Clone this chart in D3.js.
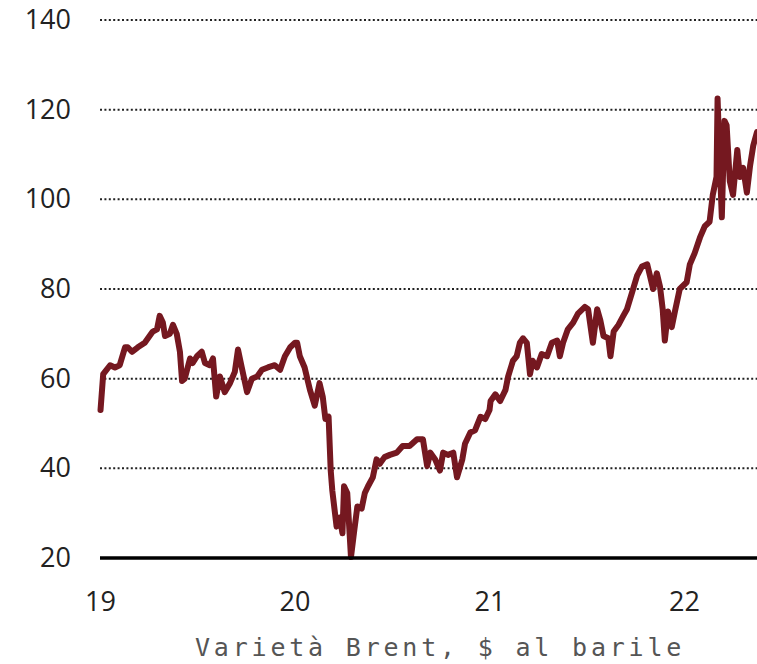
<!DOCTYPE html>
<html>
<head>
<meta charset="utf-8">
<script src="https://cdn.jsdelivr.net/npm/d3@7"></script>
<style>
  body { margin: 0; background: #fff; }
  svg { display: block; }
  .ylab text, .xlab text { font-family: "Open Sans", sans-serif; font-size: 27px; fill: #222; }
  .caption { font-family: "DejaVu Sans Mono", monospace; font-size: 25px; fill: #555; letter-spacing: 3.8px; }
</style>
</head>
<body>
<div id="chart"></div>
<script>
// Brent, $ per barrel
var dates = [
  "2019-01-02","2019-01-07","2019-01-20","2019-01-29","2019-02-07","2019-02-17","2019-02-22","2019-03-02",
  "2019-03-13","2019-03-26","2019-04-01","2019-04-10","2019-04-18","2019-04-23","2019-04-29","2019-05-03",
  "2019-05-12","2019-05-18","2019-05-25","2019-05-31","2019-06-04","2019-06-09","2019-06-19","2019-06-24",
  "2019-07-02","2019-07-11","2019-07-17","2019-07-26","2019-08-01","2019-08-07","2019-08-14","2019-08-23",
  "2019-09-02","2019-09-11","2019-09-17","2019-09-24","2019-10-04","2019-10-13","2019-10-23","2019-11-01",
  "2019-11-12","2019-11-25","2019-12-05","2019-12-14","2019-12-24","2020-01-02","2020-01-06","2020-01-11",
  "2020-01-20","2020-01-30","2020-02-08","2020-02-17","2020-02-23","2020-02-28","2020-03-05","2020-03-09",
  "2020-03-12","2020-03-20","2020-03-26","2020-03-31","2020-04-03","2020-04-09","2020-04-16","2020-04-22",
  "2020-04-28","2020-05-06","2020-05-12","2020-05-18","2020-05-27","2020-06-03","2020-06-09","2020-06-18",
  "2020-06-28","2020-07-11","2020-07-22","2020-08-04","2020-08-18","2020-08-29","2020-09-06","2020-09-12",
  "2020-09-21","2020-09-30","2020-10-06","2020-10-15","2020-10-25","2020-11-01","2020-11-11","2020-11-16",
  "2020-11-26","2020-12-05","2020-12-15","2020-12-24","2021-01-01","2021-01-03","2021-01-12","2021-01-21",
  "2021-01-31","2021-02-05","2021-02-14","2021-02-21","2021-02-27","2021-03-05","2021-03-12","2021-03-18",
  "2021-03-23","2021-03-31","2021-04-09","2021-04-19","2021-04-28","2021-05-08","2021-05-13","2021-05-19",
  "2021-05-28","2021-06-07","2021-06-16","2021-06-29","2021-07-05","2021-07-14","2021-07-22","2021-07-28",
  "2021-08-03","2021-08-12","2021-08-16","2021-08-22","2021-08-31","2021-09-09","2021-09-16","2021-09-25",
  "2021-10-05","2021-10-14","2021-10-24","2021-10-29","2021-11-04","2021-11-11","2021-11-17","2021-11-22",
  "2021-11-26","2021-12-02","2021-12-09","2021-12-15","2021-12-24","2022-01-06","2022-01-12","2022-01-21",
  "2022-01-31","2022-02-09","2022-02-18","2022-02-24","2022-03-03","2022-03-05","2022-03-09","2022-03-13",
  "2022-03-18","2022-03-22","2022-03-28","2022-04-03","2022-04-11","2022-04-16","2022-04-22","2022-04-29",
  "2022-05-05","2022-05-11","2022-05-18"
];
var prices = [
  53,61,63,62.5,63,67,67,66,
  67,68,69,70.5,71,74,72.5,69.5,
  70,72,70,66,59.5,60,64.5,63.5,
  65,66,63.5,63,64.5,56,60.5,57,
  59,61.5,66.5,62.5,57,60,60.5,62,
  62.5,63,62,65,67,68,68,65,
  62.5,57.5,54,59,56,51,51.5,39.5,
  35,27,29,25.5,36,34.5,20.2,26,
  31.5,31,34.5,36,38,42,41,42.5,
  43,43.5,45,45,46.5,46.5,40.5,43.5,
  42,39.5,43.5,43,43.5,38,42,45.5,
  48,48.5,51.5,51,53,55,56.5,55,
  57.5,60.5,64,65,68,69,68,61,
  64,62.5,65.5,65,68,68.5,65,68,
  71,72.5,74.5,76,75.5,68,75.5,73,
  69.5,69,65,70.5,72,74,75.5,79,
  83,85,85.5,83,80,83.5,80.5,75.5,
  68.5,75,71.5,75,80,81.5,85.5,88,
  91.5,94,95,101,105,122.5,108.5,96,
  117.5,116.5,104,101,111,105,107,101.5,
  107.5,112,115
];
var yTicks = [20, 40, 60, 80, 100, 120, 140];
var xTicks = ["2019-01-01", "2020-01-01", "2021-01-01", "2022-01-01"];
var xTickLabels = ["19", "20", "21", "22"];
var caption = "Varietà Brent, $ al barile";

var W = 757, H = 664;
var mLeft = 100, mRight = 757, mTop = 20, mBottom = 558;
var parse = d3.timeParse("%Y-%m-%d");

var data = dates.map(function(d, i) { return { date: parse(d), value: prices[i] }; });

var x = d3.scaleTime()
  .domain([parse("2019-01-01"), parse(dates[dates.length - 1])])
  .range([mLeft, mRight]);
var y = d3.scaleLinear().domain([20, 140]).range([mBottom, mTop]);

var svg = d3.select("#chart").append("svg")
  .attr("width", W)
  .attr("height", H);

// dotted gridlines
svg.append("g")
  .selectAll("line")
  .data(yTicks.filter(function(t) { return t > 20; }))
  .enter().append("line")
  .attr("x1", mLeft).attr("x2", mRight)
  .attr("y1", function(d) { return y(d); })
  .attr("y2", function(d) { return y(d); })
  .attr("stroke", "#222")
  .attr("stroke-width", 2)
  .attr("stroke-dasharray", "2,2.4");

// y labels
var yAxis = svg.append("g")
  .attr("class", "ylab")
  .attr("transform", "translate(71,0)")
  .call(d3.axisLeft(y).tickValues(yTicks).tickSize(0).tickPadding(0));
yAxis.select(".domain").remove();

// x labels
var xAxis = svg.append("g")
  .attr("class", "xlab")
  .attr("transform", "translate(0," + (mBottom + 27) + ")")
  .call(d3.axisBottom(x).tickValues(xTicks.map(parse)).tickSize(0).tickPadding(0)
    .tickFormat(function(d, i) { return xTickLabels[i]; }));
xAxis.select(".domain").remove();
xAxis.selectAll("text").attr("dy", "0.95em");

// the line
var line = d3.line()
  .x(function(d) { return x(d.date); })
  .y(function(d) { return y(d.value); });

svg.append("path")
  .datum(data)
  .attr("fill", "none")
  .attr("stroke", "#751820")
  .attr("stroke-width", 6)
  .attr("stroke-linejoin", "round")
  .attr("stroke-linecap", "round")
  .attr("d", line);

// baseline at 20
svg.append("line")
  .attr("x1", mLeft).attr("x2", mRight)
  .attr("y1", y(20)).attr("y2", y(20))
  .attr("stroke", "#000")
  .attr("stroke-width", 3.5);

svg.append("text")
  .attr("class", "caption")
  .attr("x", 195)
  .attr("y", 656)
  .text(caption);
</script>
</body>
</html>
